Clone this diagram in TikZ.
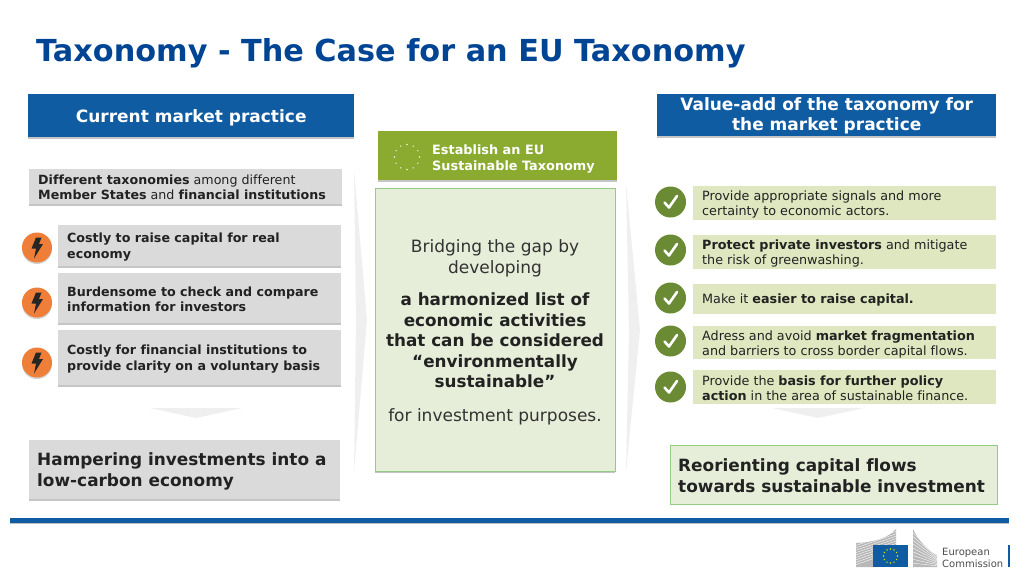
\documentclass[tikz,border=0pt]{standalone}
\usepackage{fontspec}
\setmainfont[Ligatures=CommonOff]{DejaVu Sans}
\usetikzlibrary{shadows,calc}
\definecolor{euBlue}{HTML}{004494}
\definecolor{hdrBlue}{HTML}{0F5CA3}
\definecolor{grayBox}{HTML}{DADADA}
\definecolor{txt}{HTML}{222222}
\definecolor{midTxt}{HTML}{333333}
\definecolor{estGreen}{HTML}{8AAB2F}
\definecolor{paleGreen}{HTML}{E6EDD8}
\definecolor{edgeGreen}{HTML}{93CC85}
\definecolor{lightGreen}{HTML}{DEE7BF}
\definecolor{checkGreen}{HTML}{6A8A33}
\definecolor{boltOrange}{HTML}{EF7F38}
\definecolor{chevron}{HTML}{EFEFEF}
\newcommand{\fsl}[2]{\fontsize{#1}{#2}\selectfont}
% text block inside a box: 5pt left pad, pushed down from the centre by half the optional space
\newcommand{\boxtext}[4][3pt]{\hspace{5pt}\parbox{#2}{\vspace*{#1}\raggedright#3#4}}
\newcommand{\headtext}[3]{\parbox{#1}{\vspace*{#2}\centering #3}}
\tikzset{
  x=1pt,y=-1pt,
  softshadow/.style={drop shadow={shadow xshift=0pt,shadow yshift=-2pt,opacity=.35,fill=black!65}},
  boxbase/.style={rectangle,anchor=west,inner xsep=0pt,inner ysep=0pt,minimum height=#1,align=left},
  header/.style={boxbase=#1,fill=hdrBlue,text=white,softshadow,font=\bfseries\fsl{17}{20}},
  graybox/.style={boxbase=#1,fill=grayBox,text=txt,softshadow},
  lightbox/.style={boxbase=#1,fill=lightGreen,text=txt},
  orangedot/.style={circle,fill=boltOrange,minimum size=30pt,inner sep=0pt,drop shadow={shadow xshift=0pt,shadow yshift=-1.5pt,opacity=.3,fill=black!60}},
  checkdot/.style={circle,fill=checkGreen,minimum size=31pt,inner sep=0pt},
  chev/.style={fill=chevron,draw=none},
  checkmark/.style={draw=white,line width=2.6pt,line cap=round,line join=round}
}
\newcommand{\boltat}[1]{\fill[black!85] ($(#1)+(-1,-10)$) -- ($(#1)+(4.5,-10)$) -- ($(#1)+(2,-3.5)$) -- ($(#1)+(6,-3.5)$) -- ($(#1)+(-3,11)$) -- ($(#1)+(-1,1)$) -- ($(#1)+(-5.5,1)$) -- cycle;}
\newcommand{\checkat}[1]{\draw[checkmark] ($(#1)+(-6,0.5)$) -- ($(#1)+(-1.5,5.5)$) -- ($(#1)+(6.5,-6)$);}
\begin{document}
\begin{tikzpicture}
\useasboundingbox (0,0) rectangle (1024,576);
\node[anchor=west,inner sep=0pt,text=euBlue,font=\bfseries\fsl{30.3}{36}] (title) at (36,53) {Taxonomy - The Case for an EU Taxonomy};
% chevrons
\fill[chev] (354,170) -- (367,320) -- (354,472) -- (356,320) -- cycle;
\fill[chev] (626,183) -- (640,330) -- (626,472) -- (629,330) -- cycle;
\fill[chev] (150,408) -- (242,408) -- (196,418) -- cycle;
\fill[chev] (772,408) -- (864,408) -- (818,418) -- cycle;
% left column
\node[header=43pt,minimum width=326pt] (cur) at (28,115.5) {\headtext{326pt}{4pt}{Current market practice}};
\node[graybox=35pt,minimum width=313pt] (diff) at (29,186.5) {\boxtext[2pt]{300pt}{\fsl{12.65}{15.5}}{\textbf{Different taxonomies} among different\\\textbf{Member States} and \textbf{financial institutions}}};
\node[graybox=41pt,minimum width=283pt] (g1) at (58,245.5) {\boxtext{270pt}{\fsl{12.65}{15.5}}{\textbf{Costly to raise capital for real}\\\textbf{economy}}};
\node[graybox=50pt,minimum width=283pt] (g2) at (58,298) {\boxtext{270pt}{\fsl{12.65}{15.5}}{\textbf{Burdensome to check and compare}\\\textbf{information for investors}}};
\node[graybox=55pt,minimum width=283pt] (g3) at (58,357.5) {\boxtext{270pt}{\fsl{12.65}{15.5}}{\textbf{Costly for financial institutions to}\\\textbf{provide clarity on a voluntary basis}}};
\node[orangedot] (o1) at (37,247.5) {};
\node[orangedot] (o2) at (37,302.5) {};
\node[orangedot] (o3) at (37,362.5) {};
\boltat{o1}\boltat{o2}\boltat{o3}
\node[graybox=59pt,minimum width=311pt] (hamp) at (29,469) {\boxtext[5pt]{300pt}{\bfseries\fsl{16.9}{20.5}}{Hampering investments into a\\low-carbon economy}};
% middle column
\node[rectangle,anchor=north west,minimum width=240pt,minimum height=283pt,inner sep=0pt,fill=paleGreen,draw=edgeGreen,line width=.8pt,softshadow] (mid) at (375,188) {};
\node[rectangle,anchor=west,minimum width=239pt,minimum height=49pt,inner sep=0pt,fill=estGreen,softshadow] (est) at (378,155.5) {};
\node[anchor=west,inner sep=0pt,align=left,text=white,font=\bfseries\fsl{12.85}{15.5}] (esttxt) at (432,159) {Establish an EU\\Sustainable Taxonomy};
\foreach \a in {0,30,...,330}{\fill[white!85!estGreen] ($(407,157)+(\a:12.5)$) circle (.8pt);}
\node[inner sep=0pt,align=center,text=midTxt,font=\fsl{17}{20.5}] (midtxt) at (495,332.5) {Bridging the gap by\\developing\\[12pt]
{\bfseries\fsl{16.8}{20.5}\color{txt}a harmonized list of}\\{\bfseries\fsl{16.8}{20.5}\color{txt}economic activities}\\{\bfseries\fsl{16.8}{20.5}\color{txt}that can be considered}\\{\bfseries\fsl{16.8}{20.5}\color{txt}“environmentally}\\{\bfseries\fsl{16.8}{20.5}\color{txt}sustainable”}\\[13pt]for investment purposes.};
% right column
\node[header=42pt,minimum width=339pt] (val) at (657,115) {\headtext{339pt}{2pt}{Value-add of the taxonomy for\\the market practice}};
\node[lightbox=34pt,minimum width=303pt] (b1) at (693,203) {\boxtext{290pt}{\fsl{12.75}{15}}{Provide appropriate signals and more\\certainty to economic actors.}};
\node[lightbox=34pt,minimum width=303pt] (b2) at (693,252) {\boxtext{290pt}{\fsl{12.75}{15}}{\textbf{Protect private investors} and mitigate\\the risk of greenwashing.}};
\node[lightbox=30pt,minimum width=303pt] (b3) at (693,299) {\boxtext[2pt]{290pt}{\fsl{12.75}{15}}{Make it \textbf{easier to raise capital.}}};
\node[lightbox=33pt,minimum width=303pt] (b4) at (693,342.5) {\boxtext{290pt}{\fsl{12.75}{15}}{Adress and avoid \textbf{market fragmentation}\\and barriers to cross border capital flows.}};
\node[lightbox=34pt,minimum width=303pt] (b5) at (693,387) {\boxtext{290pt}{\fsl{12.75}{15}}{Provide the \textbf{basis for further policy}\\\textbf{action} in the area of sustainable finance.}};
\node[checkdot] (c1) at (670.5,202) {};
\node[checkdot] (c2) at (670.5,250) {};
\node[checkdot] (c3) at (670.5,298) {};
\node[checkdot] (c4) at (670.5,341) {};
\node[checkdot] (c5) at (670.5,387) {};
\checkat{c1}\checkat{c2}\checkat{c3}\checkat{c4}\checkat{c5}
\node[rectangle,anchor=west,minimum width=327pt,minimum height=59pt,inner sep=0pt,fill=paleGreen,draw=edgeGreen,line width=.8pt] (reor) at (670,474.5) {};
\node[anchor=west,inner sep=0pt,align=left,text=txt,font=\bfseries\fsl{16.9}{21}] (reortxt) at (678,476) {Reorienting capital flows\\towards sustainable investment};
% footer rule
\fill[black!25] (10,522) rectangle (1009,524);
\fill[hdrBlue] (10,518) rectangle (1009,522.5);
% logo
\fill[black!28] (856,543) .. controls (875,542) and (888,538) .. (896,529) -- (896,546) -- (873,567) -- (856,567) -- cycle;
\fill[black!28] (913,529) .. controls (918,540) and (928,551) .. (937,555) -- (937,567) -- (913,567) -- cycle;
\foreach \i in {1,...,9}{
  \draw[white,line width=.35pt] (856,{543+\i*2.4}) -- (896,{529+\i*2.4});
  \draw[white,line width=.35pt] (913,{529+\i*3.8}) -- (937,{555+\i*1.2});
}
\fill[hdrBlue] (873,545) rectangle (908,567);
\foreach \a in {0,30,...,330}{\fill[yellow!80!green] ($(890.5,556)+(\a:7)$) circle (.8pt);}
\node[anchor=west,inner sep=0pt,align=left,text=black!70,font=\fsl{10}{11.5}] (logotxt) at (942,558) {European\\Commission};
\fill[hdrBlue] (1007.5,545) rectangle (1009.5,567);
\end{tikzpicture}
\end{document}
